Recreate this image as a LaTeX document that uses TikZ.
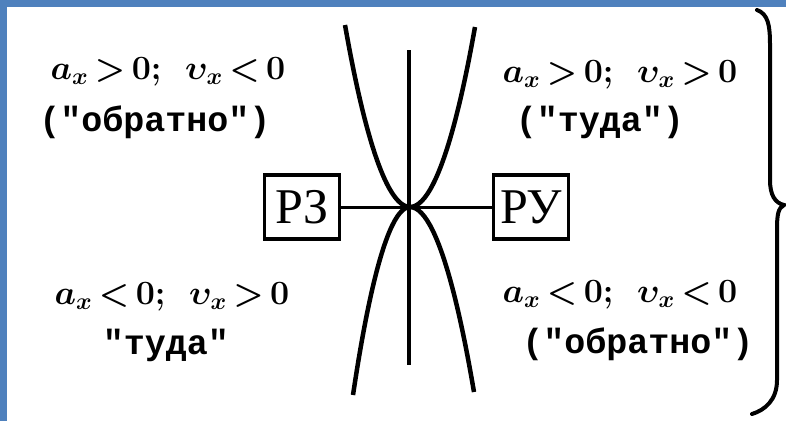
\RequirePackage{fix-cm}
\documentclass[tikz,border=0pt]{standalone}
\usepackage{fontspec}
\newfontfamily\typefont{Liberation Mono}
\newfontfamily\boxfont{Liberation Serif}
\usetikzlibrary{positioning}
\definecolor{frameblue}{RGB}{79,129,189}
\tikzset{
  cond/.style={font=\fontsize{34}{38}\selectfont\boldmath},
  word/.style={font=\fontsize{35}{38}\selectfont\typefont\bfseries},
  regbox/.style={draw, line width=3.5pt, minimum width=75pt, minimum height=64pt, inner sep=0pt, font=\fontsize{50}{54}\selectfont\boxfont},
  curve/.style={line width=4.5pt}
}
\begin{document}
\begin{tikzpicture}[x=1pt,y=-1pt]
    % 1. Frame
    \fill[frameblue] (0,0) rectangle (786,421);
    \fill[white] (7,7) rectangle (786,421);
    \useasboundingbox (0,0) rectangle (786,421);

    % 2. Parabolas touching at the centre
    \coordinate (o) at (410,207);
    \draw[curve] (345,25) parabola bend (o) (475,27);
    \draw[curve] (353,395) parabola bend (o) (474,392);
    \draw[line width=3.5pt] (409,50) -- (409,365);

    % 3. Boxes and the line through the centre
    \node[regbox] (rz) at (302,207) {РЗ};
    \node[regbox] (ru) at (531,207) {РУ};
    \draw[line width=3pt] (rz) -- (ru);

    % 4. Conditions in the four quarters
    \node[cond] (tlcond) at (168,72) {$a_x\,{>}\,0;\enskip\upsilon_x\,{<}\,0$};
    \node[word] (tlword) at (155,122) {("обратно")};
    \node[cond] (trcond) at (620,75) {$a_x\,{>}\,0;\enskip\upsilon_x\,{>}\,0$};
    \node[word] (trword) at (600,122) {("туда")};
    \node[cond] (blcond) at (172,297) {$a_x\,{<}\,0;\enskip\upsilon_x\,{>}\,0$};
    \node[word] (blword) at (166,345) {"туда"};
    \node[cond] (brcond) at (620,295) {$a_x\,{<}\,0;\enskip\upsilon_x\,{<}\,0$};
    \node[word] (brword) at (638,344) {("обратно")};

    % 5. Brace on the right
    \draw[line width=4pt, line cap=round] (757,10) .. controls (768,14) and (770,25) .. (770,45)
        -- (770,180) .. controls (770,195) and (775,203) .. (784,205)
        .. controls (778,208) and (777,215) .. (777,230)
        -- (777,380) .. controls (777,400) and (765,410) .. (752,414);
\end{tikzpicture}
\end{document}
